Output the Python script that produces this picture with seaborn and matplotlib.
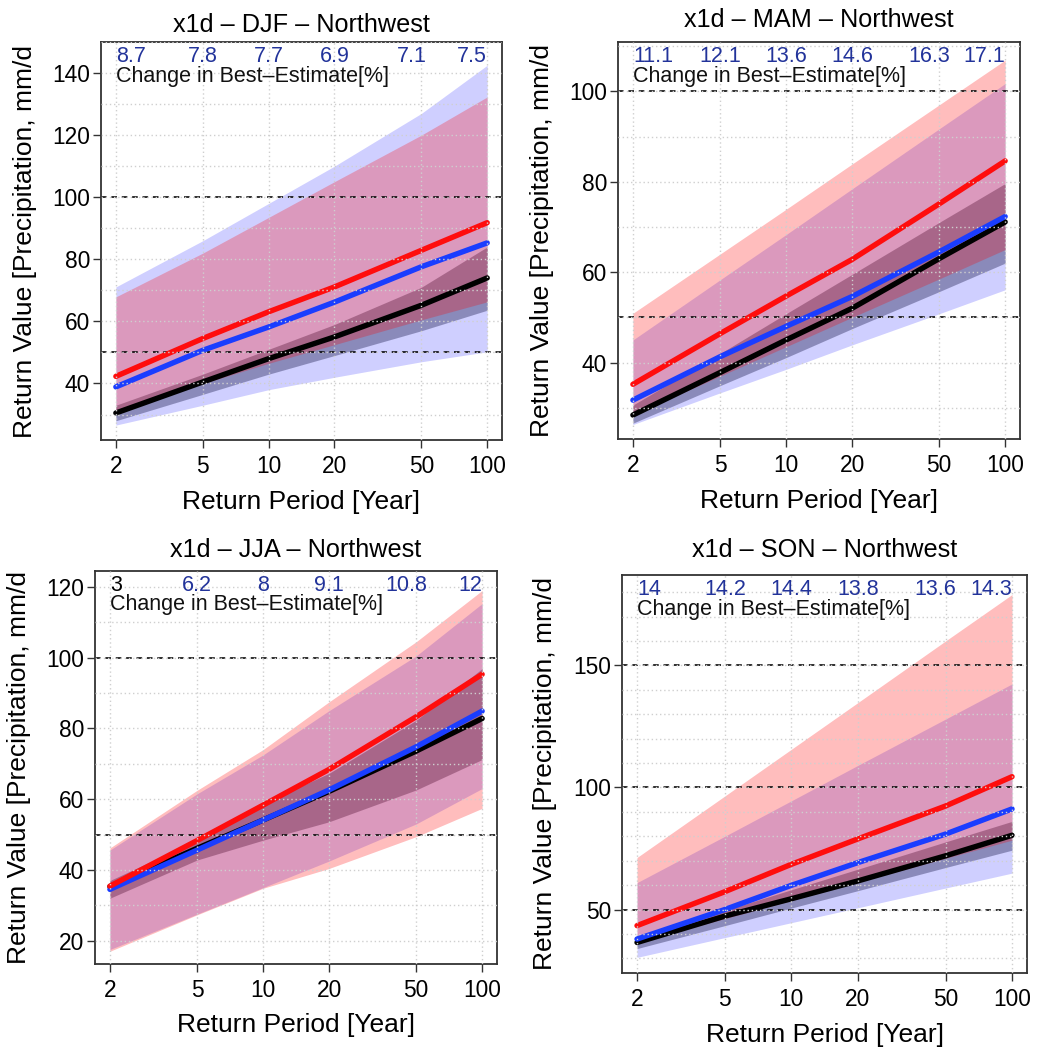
import pandas as pd
import matplotlib
matplotlib.use('Agg')
import matplotlib.pyplot as plt
import matplotlib.transforms as mtransforms
import seaborn as sns
from matplotlib.ticker import MultipleLocator, FixedLocator, FixedFormatter, NullLocator

# return periods and tick labels
return_periods = [2, 5, 10, 20, 50, 100]
period_labels = ['2', '5', '10', '20', '50', '100']

# DJF
djf_black = [30.5, 40.5, 48.0, 55.0, 65.2, 74.0]
djf_blue = [38.9, 50.7, 58.2, 66.2, 77.6, 85.3]
djf_red = [42.3, 54.5, 63.1, 71.1, 82.9, 91.8]
djf_black_lo = [28.0, 36.5, 43.0, 49.0, 57.0, 63.6]
djf_black_hi = [33.0, 43.0, 51.0, 59.0, 71.0, 84.0]
djf_blue_lo = [26.6, 33.0, 38.0, 42.0, 47.0, 50.2]
djf_blue_hi = [71.1, 86.0, 98.0, 110.0, 127.0, 142.5]
djf_red_lo = [31.5, 40.0, 46.5, 52.5, 60.5, 66.3]
djf_red_hi = [67.9, 82.0, 93.5, 105.0, 120.0, 132.3]
djf_change = [8.7, 7.8, 7.7, 6.9, 7.1, 7.5]
djf_signif = [True, True, True, True, True, True]

# MAM
mam_black = [28.4, 37.8, 45.0, 52.0, 63.0, 71.1]
mam_blue = [31.7, 41.3, 48.0, 54.6, 64.5, 72.3]
mam_red = [35.2, 46.4, 54.7, 62.8, 75.1, 84.6]
mam_black_lo = [26.6, 34.9, 41.1, 47.5, 55.7, 62.0]
mam_black_hi = [30.6, 42.0, 50.8, 59.5, 71.0, 79.6]
mam_blue_lo = [26.3, 33.3, 38.5, 43.9, 50.8, 56.1]
mam_blue_hi = [45.0, 58.3, 68.3, 78.4, 91.7, 101.7]
mam_red_lo = [28.5, 37.0, 43.5, 50.0, 58.5, 65.0]
mam_red_hi = [50.9, 64.0, 73.9, 83.9, 97.0, 106.9]
mam_change = [11.1, 12.1, 13.6, 14.6, 16.3, 17.1]
mam_signif = [True, True, True, True, True, True]

# JJA
jja_black = [35.3, 46.1, 54.1, 62.2, 73.6, 82.8]
jja_blue = [34.5, 45.6, 54.1, 62.6, 74.8, 84.9]
jja_red = [35.4, 48.3, 58.3, 68.4, 83.3, 95.3]
jja_black_lo = [32.0, 42.8, 48.4, 53.6, 62.6, 71.2]
jja_black_hi = [37.0, 48.4, 58.8, 67.3, 82.3, 96.9]
jja_blue_lo = [17.5, 27.5, 35.0, 42.5, 53.0, 63.0]
jja_blue_hi = [45.6, 61.5, 72.5, 85.0, 100.5, 115.3]
jja_red_lo = [17.0, 27.3, 34.8, 40.4, 49.4, 57.4]
jja_red_hi = [46.2, 62.5, 74.0, 87.5, 104.5, 119.0]
jja_change = [3, 6.2, 8, 9.1, 10.8, 12]
jja_signif = [False, True, True, True, True, True]

# SON
son_black = [36.5, 47.3, 54.4, 61.7, 72.0, 80.4]
son_blue = [37.9, 50.0, 59.9, 69.2, 80.9, 91.2]
son_red = [43.4, 57.3, 68.5, 78.9, 92.4, 104.4]
son_black_lo = [34.0, 43.4, 50.6, 57.7, 67.2, 74.3]
son_black_hi = [38.5, 49.6, 58.1, 66.5, 77.7, 86.1]
son_blue_lo = [30.4, 38.5, 44.6, 50.7, 58.8, 64.9]
son_blue_hi = [61.0, 80.0, 94.5, 109.0, 128.0, 142.4]
son_red_lo = [36.5, 46.3, 53.7, 61.2, 71.0, 78.4]
son_red_hi = [71.3, 96.5, 115.6, 134.7, 160.0, 179.0]
son_change = [14, 14.2, 14.4, 13.8, 13.6, 14.3]
son_signif = [True, True, True, True, True, True]

sns.set_theme(style='ticks')
plt.rcParams['font.family'] = ['Liberation Sans', 'DejaVu Sans']
plt.rcParams['text.color'] = 'black'
plt.rcParams['axes.labelcolor'] = 'black'

W, H = 1037, 1049
fig = plt.figure(figsize=(W / 100, H / 100), dpi=100)

# where the annotations sit along x, and how they are aligned
label_x = [2, 5, 10, 20, 45, 100]
label_ha = ['left', 'center', 'center', 'center', 'center', 'right']


def draw_panel(rect_px, season, black, blue, red, black_ci, blue_ci, red_ci,
               change, signif, ylim, ystep, ref_lines, title_pad):
    l, t, r, b = rect_px
    ax = fig.add_axes([l / W, 1 - b / H, (r - l) / W, (b - t) / H])

    # confidence bands
    ax.fill_between(return_periods, black_ci[0], black_ci[1], color='black', alpha=0.33, lw=0, zorder=1)
    ax.fill_between(return_periods, blue_ci[0], blue_ci[1], color='#0000ff', alpha=0.19, lw=0, zorder=1)
    ax.fill_between(return_periods, red_ci[0], red_ci[1], color='#ff0000', alpha=0.26, lw=0, zorder=1)

    for v in ref_lines:
        ax.axhline(v, color='black', ls=(0, (3.5, 3)), lw=1.15, zorder=1.8)

    df = pd.DataFrame({
        'rp': return_periods * 3,
        'value': black + blue + red,
        'series': ['obs'] * 6 + ['hist'] * 6 + ['fut'] * 6,
    })
    sns.lineplot(data=df, x='rp', y='value', hue='series',
                 palette={'obs': 'black', 'hist': '#1a3dff', 'fut': '#ff0d0d'},
                 lw=3.9, legend=False, ax=ax, zorder=2)
    for line in ax.lines:
        line.set_solid_capstyle('round')
        line.set_solid_joinstyle('round')

    ax.set_xscale('log')
    ax.set_xlim(1.71, 116.9)
    ax.set_ylim(*ylim)
    ax.xaxis.set_major_locator(FixedLocator(return_periods))
    ax.xaxis.set_major_formatter(FixedFormatter(period_labels))
    ax.xaxis.set_minor_locator(NullLocator())
    ax.yaxis.set_major_locator(MultipleLocator(ystep))
    ax.yaxis.set_minor_locator(MultipleLocator(10))

    ax.set_axisbelow(False)
    ax.grid(which='major', axis='x', color='#cfcfcf', ls=(0, (1, 2)), lw=1.0)
    ax.grid(which='both', axis='y', color='#cfcfcf', ls=(0, (1, 2)), lw=1.0)

    ax.tick_params(axis='both', which='major', direction='out', length=6, width=1,
                   color='#333333', labelsize=16.4, labelcolor='black')
    ax.tick_params(axis='x', which='major', pad=4.5)
    ax.tick_params(axis='y', which='major', pad=2)
    ax.tick_params(which='minor', length=0)
    for sp in ax.spines.values():
        sp.set_visible(True)
        sp.set_color('#333333')
        sp.set_linewidth(1.3)

    ax.set_title('x1d \u2013 %s \u2013 Northwest' % season, fontsize=18.2, pad=title_pad)
    ax.set_xlabel('Return Period [Year]', fontsize=19)
    ax.set_ylabel('Return Value [Precipitation, mm/d', fontsize=19)
    ax.xaxis.set_label_coords(0.5, -0.125)
    ax.yaxis.set_label_coords(-0.16, 0.5)

    trans = mtransforms.blended_transform_factory(ax.transData, ax.transAxes)
    for x, ha, val, sig in zip(label_x, label_ha, change, signif):
        ax.text(x, 0.963, '%g' % val, transform=trans, ha=ha, va='center',
                fontsize=15.5, color='#22339a' if sig else 'black')
    ax.text(2, 0.914, 'Change in Best\u2013Estimate[%]', transform=trans,
            ha='left', va='center', fontsize=15.5, color='#111111')
    return ax


draw_panel((101, 42, 502, 440), 'DJF', djf_black, djf_blue, djf_red,
           (djf_black_lo, djf_black_hi), (djf_blue_lo, djf_blue_hi), (djf_red_lo, djf_red_hi),
           djf_change, djf_signif, (21.8, 150), 20, [50, 100], 7)
draw_panel((618, 42, 1020, 439), 'MAM', mam_black, mam_blue, mam_red,
           (mam_black_lo, mam_black_hi), (mam_blue_lo, mam_blue_hi), (mam_red_lo, mam_red_hi),
           mam_change, mam_signif, (23.1, 110.9), 20, [50, 100], 11)
draw_panel((95, 571, 497, 964), 'JJA', jja_black, jja_blue, jja_red,
           (jja_black_lo, jja_black_hi), (jja_blue_lo, jja_blue_hi), (jja_red_lo, jja_red_hi),
           jja_change, jja_signif, (13.4, 124.5), 20, [50, 100], 10)
draw_panel((622, 575, 1027, 973), 'SON', son_black, son_blue, son_red,
           (son_black_lo, son_black_hi), (son_blue_lo, son_blue_hi), (son_red_lo, son_red_hi),
           son_change, son_signif, (24.0, 187.0), 50, [50, 100, 150], 13)

fig.savefig('out.png', dpi=100)
